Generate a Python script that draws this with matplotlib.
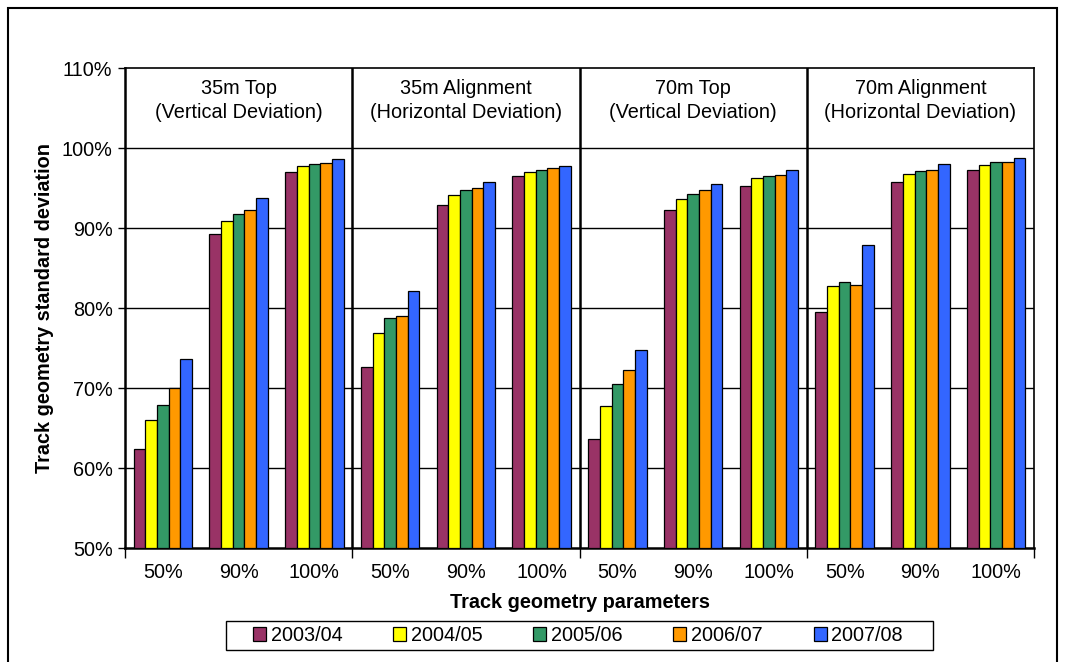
import numpy as np
import matplotlib
matplotlib.use("Agg")
import matplotlib.pyplot as plt
from matplotlib.patches import Rectangle

plt.rcParams['font.family'] = ['Liberation Sans', 'DejaVu Sans']

# data (percent)
panels = ["35m Top\n(Vertical Deviation)", "35m Alignment\n(Horizontal Deviation)",
          "70m Top\n(Vertical Deviation)", "70m Alignment\n(Horizontal Deviation)"]
params = ["50%", "90%", "100%"]
years = ["2003/04", "2004/05", "2005/06", "2006/07", "2007/08"]
colors = ["#993366", "#FFFF00", "#339966", "#FF9900", "#3366FF"]

# one list per year, 12 values = 4 panels x 3 parameters
y2003 = [62.4, 89.2, 97.0, 72.6, 92.9, 96.5, 63.6, 92.3, 95.3, 79.5, 95.7, 97.2]
y2004 = [66.0, 90.9, 97.7, 76.9, 94.1, 97.0, 67.7, 93.6, 96.2, 82.8, 96.8, 97.9]
y2005 = [67.9, 91.8, 98.0, 78.8, 94.8, 97.3, 70.5, 94.3, 96.5, 83.2, 97.1, 98.2]
y2006 = [70.0, 92.3, 98.1, 79.0, 95.0, 97.5, 72.2, 94.7, 96.6, 82.9, 97.3, 98.3]
y2007 = [73.6, 93.8, 98.6, 82.1, 95.8, 97.8, 74.7, 95.5, 97.3, 87.9, 98.0, 98.7]
series = [y2003, y2004, y2005, y2006, y2007]

FS = 14.3
W, H = 1065, 662

fig = plt.figure(figsize=(W/100, H/100), dpi=100)
ax = fig.add_axes([125/W, 1-548/H, (1034-125)/W, (548-68)/H])

x = np.arange(len(panels) * len(params))
w = 0.155
for i, (vals, c) in enumerate(zip(series, colors)):
    ax.bar(x + (i - 2) * w, np.array(vals) - 50, w, bottom=50, color=c,
           edgecolor='black', linewidth=0.9, label=years[i], zorder=3)

ax.set_ylim(50, 110)
ax.set_xlim(-0.5, 11.5)
ax.set_yticks(np.arange(50, 111, 10))
ax.set_yticklabels(["%d%%" % v for v in range(50, 111, 10)], fontsize=FS)
for v in range(60, 110, 10):
    ax.axhline(v, color='black', linewidth=1.0, zorder=1)

# panel separators
for b in [2.5, 5.5, 8.5]:
    ax.axvline(b, color='black', linewidth=1.8, zorder=4)

# x ticks only at panel boundaries, labels at category centers
ax.set_xticks([-0.5, 2.5, 5.5, 8.5, 11.5])
ax.set_xticklabels([])
ax.tick_params(axis='x', length=7, width=1, direction='out')
ax.tick_params(axis='y', length=5, width=1, direction='out', pad=4)
for k in x:
    ax.annotate(params[k % 3], xy=(k, 0), xycoords=('data', 'axes fraction'),
                xytext=(0, -25), textcoords='offset pixels',
                ha='center', va='center', fontsize=FS)

# panel headers in the top band
for p, t in enumerate(panels):
    ax.text(p * 3 + 1, 105.9, t, ha='center', va='center', fontsize=FS,
            linespacing=1.35)

for s in ['top', 'right']:
    ax.spines[s].set_linewidth(1.2)
ax.spines['left'].set_linewidth(1.8)
ax.spines['bottom'].set_linewidth(1.8)

fig.text(45/W, 1 - 308/H, "Track geometry standard deviation", rotation=90,
         ha='center', va='center', fontsize=FS, fontweight='bold')
fig.text((125 + 1034) / 2 / W, 1 - 602/H, "Track geometry parameters",
         ha='center', va='center', fontsize=FS, fontweight='bold')

fig.legend(loc='center', bbox_to_anchor=(578/W, 1 - 635.5/H), ncol=5, fontsize=FS,
           frameon=False, handlelength=0.65, handleheight=0.65,
           handletextpad=0.25, columnspacing=2.55, borderpad=0.2)
fig.patches.append(Rectangle((226/W, 1 - 650/H), (933-226)/W, 29/H,
                             transform=fig.transFigure, fill=False,
                             edgecolor='black', linewidth=1.0))

# outer border of the picture
fig.patches.append(Rectangle((8/W, -0.1), (1057-8)/W, 1.1 - 8/H,
                             transform=fig.transFigure, fill=False,
                             edgecolor='black', linewidth=1.5))

fig.savefig("out.png", dpi=100)
